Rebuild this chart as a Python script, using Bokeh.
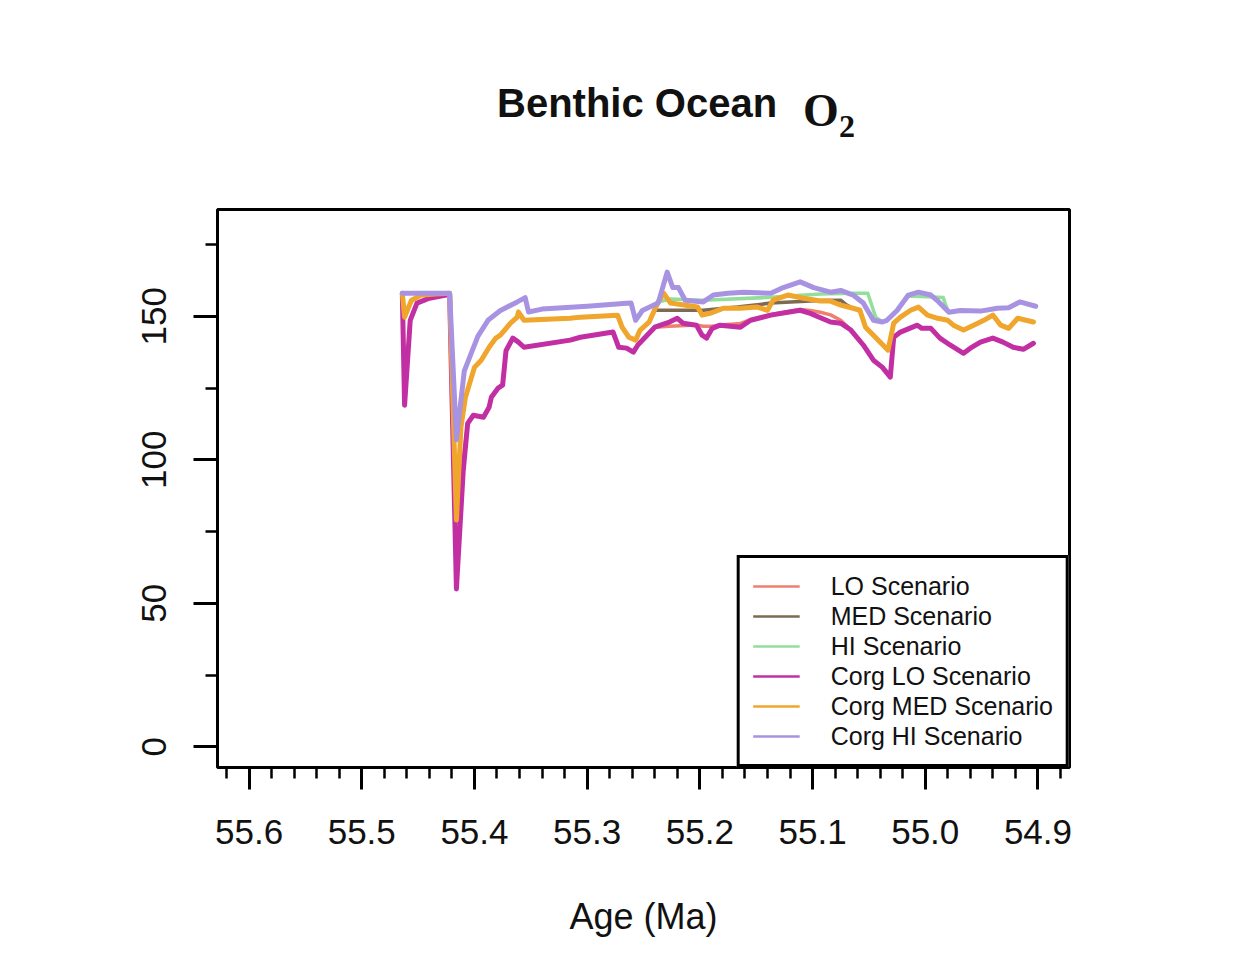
from bokeh.plotting import figure
from bokeh.models import (Range1d, LinearAxis, FixedTicker, PrintfTickFormatter,
                          Legend, LegendItem, Div)
from bokeh.layouts import column
from bokeh.embed import file_html
from bokeh.resources import INLINE

# ---- series: age (Ma) and benthic O2 ----
age_corg_lo = [55.464, 55.462, 55.457, 55.451, 55.440, 55.425, 55.422, 55.416, 55.410, 55.406,
               55.401, 55.392, 55.387, 55.385, 55.379, 55.375, 55.372, 55.366, 55.361, 55.356,
               55.315, 55.306, 55.277, 55.272, 55.265, 55.259, 55.255, 55.240, 55.227, 55.220,
               55.215, 55.203, 55.198, 55.194, 55.189, 55.182, 55.164, 55.155, 55.137, 55.122,
               55.111, 55.102, 55.093, 55.084, 55.075, 55.066, 55.055, 55.046, 55.038, 55.031,
               55.028, 55.022, 55.007, 55.003, 54.995, 54.987, 54.978, 54.966, 54.960, 54.951,
               54.940, 54.931, 54.922, 54.913, 54.904]
o2_corg_lo = [158.0, 119.0, 148.6, 154.6, 156.3, 157.4, 157.5, 55.0, 96.0, 112.7,
              115.5, 114.8, 118.3, 121.8, 125.0, 126.0, 138.0, 142.4, 141.0, 139.2,
              141.7, 142.7, 144.5, 139.2, 138.9, 137.5, 140.0, 146.2, 148.0, 149.3,
              147.6, 146.9, 143.4, 142.4, 145.8, 146.9, 146.2, 148.6, 150.4, 151.4,
              152.1, 151.0, 149.5, 148.0, 147.6, 145.2, 140.0, 134.7, 132.2, 128.8,
              142.7, 144.5, 146.9, 145.8, 145.8, 142.4, 140.0, 137.1, 138.9, 141.0,
              142.4, 141.0, 139.2, 138.5, 140.6]

age_corg_med = [55.464, 55.462, 55.456, 55.448, 55.435, 55.422, 55.416, 55.412, 55.408, 55.400,
                55.394, 55.387, 55.381, 55.377, 55.368, 55.362, 55.361, 55.356, 55.315, 55.306,
                55.273, 55.269, 55.263, 55.257, 55.253, 55.245, 55.237, 55.232, 55.226, 55.214,
                55.202, 55.198, 55.191, 55.179, 55.164, 55.149, 55.140, 55.135, 55.122, 55.108,
                55.093, 55.084, 55.075, 55.064, 55.058, 55.053, 55.046, 55.033, 55.028, 55.022,
                55.013, 55.006, 54.998, 54.989, 54.980, 54.975, 54.966, 54.957, 54.948, 54.940,
                54.933, 54.926, 54.918, 54.904]
o2_corg_med = [158.0, 149.7, 155.5, 157.3, 157.8, 158.0, 79.0, 111.3, 121.8, 132.2,
               134.7, 139.2, 142.4, 143.4, 147.6, 149.7, 151.4, 148.6, 149.3, 149.7,
               150.4, 146.2, 142.7, 141.7, 145.2, 148.0, 155.0, 158.0, 154.6, 153.9,
               153.2, 150.4, 151.0, 152.8, 152.8, 153.2, 152.1, 155.6, 157.4, 156.3,
               155.3, 155.3, 153.9, 152.8, 152.1, 146.2, 143.4, 138.2, 147.6, 149.7,
               152.1, 153.2, 150.4, 149.3, 148.6, 146.9, 145.2, 146.9, 148.6, 150.4,
               146.9, 145.8, 149.3, 148.0]

age_corg_hi = [55.464, 55.422, 55.416, 55.409, 55.403, 55.397, 55.388, 55.377, 55.362, 55.355,
               55.352, 55.340, 55.300, 55.265, 55.261, 55.257, 55.251, 55.237, 55.229, 55.224,
               55.219, 55.213, 55.197, 55.188, 55.175, 55.161, 55.137, 55.126, 55.111, 55.099,
               55.084, 55.075, 55.064, 55.055, 55.046, 55.038, 55.034, 55.025, 55.015, 55.006,
               54.995, 54.988, 54.979, 54.969, 54.951, 54.936, 54.926, 54.916, 54.902]
o2_corg_hi = [158.0, 158.0, 107.0, 131.0, 137.0, 143.0, 148.6, 152.0, 155.0, 156.5,
              151.5, 152.5, 153.5, 154.5, 154.6, 148.6, 152.0, 154.6, 165.4, 160.0,
              160.0, 155.6, 155.0, 157.4, 158.0, 158.4, 158.0, 160.0, 162.0, 160.0,
              158.4, 159.0, 157.4, 154.6, 148.6, 148.0, 148.6, 152.0, 157.4, 158.4,
              157.4, 155.0, 151.4, 152.0, 151.8, 152.8, 153.0, 155.0, 153.5]

age_hi = [55.464, 55.462, 55.456, 55.448, 55.435, 55.422, 55.416, 55.412, 55.408, 55.400,
          55.394, 55.387, 55.381, 55.377, 55.368, 55.362, 55.361, 55.356, 55.315, 55.306,
          55.273, 55.269, 55.263, 55.257, 55.253, 55.245, 55.237, 55.226, 55.197, 55.137,
          55.093, 55.064, 55.051, 55.044, 55.038, 55.034, 55.025, 55.015, 55.009, 54.984,
          54.982, 54.979, 54.969, 54.951, 54.936, 54.926, 54.916, 54.902]
o2_hi = [158.0, 150.5, 155.5, 157.3, 157.8, 158.0, 80.0, 111.3, 121.8, 132.2,
         134.7, 139.2, 142.4, 143.4, 147.6, 150.0, 151.8, 148.6, 149.3, 149.7,
         150.4, 146.2, 142.7, 141.7, 145.2, 148.0, 155.0, 156.0, 155.6, 156.6,
         157.8, 158.0, 158.0, 149.7, 148.0, 148.6, 152.0, 157.0, 157.0, 156.5,
         154.0, 151.4, 152.0, 151.8, 152.8, 153.0, 155.0, 153.5]

age_med = [55.464, 55.462, 55.456, 55.448, 55.435, 55.422, 55.416, 55.412, 55.408, 55.400,
           55.394, 55.387, 55.381, 55.377, 55.368, 55.362, 55.361, 55.356, 55.315, 55.306,
           55.273, 55.269, 55.263, 55.257, 55.253, 55.245, 55.240, 55.197, 55.167, 55.137,
           55.093, 55.075, 55.070, 55.064, 55.058, 55.053, 55.046, 55.033, 55.028, 55.022,
           55.013, 55.006, 54.998, 54.989, 54.980, 54.975, 54.966, 54.957, 54.948, 54.940,
           54.933, 54.926, 54.918, 54.904]
o2_med = [158.0, 150.0, 155.5, 157.3, 157.8, 158.0, 79.5, 111.3, 121.8, 132.2,
          134.7, 139.2, 142.4, 143.4, 147.6, 149.7, 151.0, 148.6, 149.3, 149.7,
          150.4, 146.2, 142.7, 141.7, 145.2, 148.0, 152.1, 152.1, 153.2, 154.6,
          155.5, 155.6, 154.0, 152.8, 152.1, 146.2, 143.4, 138.2, 147.6, 149.7,
          152.1, 153.2, 150.4, 149.3, 148.6, 146.9, 145.2, 146.9, 148.6, 150.4,
          146.9, 145.8, 149.3, 148.0]

age_lo = [55.464, 55.462, 55.457, 55.451, 55.440, 55.425, 55.422, 55.416, 55.410, 55.406,
          55.401, 55.392, 55.387, 55.385, 55.379, 55.375, 55.372, 55.366, 55.361, 55.356,
          55.315, 55.306, 55.277, 55.272, 55.265, 55.259, 55.255, 55.240, 55.227, 55.203,
          55.197, 55.189, 55.182, 55.164, 55.155, 55.137, 55.122, 55.111, 55.102, 55.093,
          55.084, 55.075, 55.066, 55.055, 55.046, 55.038, 55.031, 55.028, 55.022, 55.007,
          55.003, 54.995, 54.987, 54.978, 54.966, 54.960, 54.951, 54.940, 54.931, 54.922,
          54.913, 54.904]
o2_lo = [158.0, 120.0, 148.6, 154.6, 156.3, 157.4, 157.5, 78.0, 100.0, 113.0,
         115.5, 115.0, 118.5, 122.0, 125.0, 126.5, 138.0, 142.4, 141.0, 139.2,
         141.7, 142.7, 144.5, 139.2, 138.9, 137.5, 140.0, 146.2, 146.5, 147.0,
         146.5, 146.5, 147.0, 147.5, 148.8, 150.6, 151.6, 152.4, 152.0, 151.4,
         150.5, 148.6, 145.2, 140.0, 134.7, 132.2, 128.8, 142.7, 144.5, 146.9,
         145.8, 145.8, 142.4, 140.0, 137.1, 138.9, 141.0, 142.4, 141.0, 139.2,
         138.5, 140.6]

names = ["LO Scenario", "MED Scenario", "HI Scenario",
         "Corg LO Scenario", "Corg MED Scenario", "Corg HI Scenario"]

x_ticks = [55.6, 55.5, 55.4, 55.3, 55.2, 55.1, 55.0, 54.9]
y_ticks = [0, 50, 100, 150]

series = [
    (age_lo, o2_lo, "#EE8070", 3.5),
    (age_med, o2_med, "#7E6A52", 3.5),
    (age_hi, o2_hi, "#94DE9C", 3.5),
    (age_corg_lo, o2_corg_lo, "#C22FA2", 5),
    (age_corg_med, o2_corg_med, "#F0A52C", 5),
    (age_corg_hi, o2_corg_hi, "#A892E2", 5),
]

FONT = "Liberation Sans"
TITLE_H = 150

# title row: sans-serif words followed by the chemical formula in a serif face
title_html = (
    '<div style="position:relative;width:1252px;height:%dpx;color:#111111;">'
    '<span style="position:absolute;left:497px;top:83px;font-family:\'Liberation Sans\';'
    'font-weight:bold;font-size:40px;line-height:1;white-space:nowrap;">Benthic Ocean</span>'
    '<span style="position:absolute;left:803px;top:88px;font-family:\'Liberation Serif\';'
    'font-weight:bold;font-size:46px;line-height:1;">O</span>'
    '<span style="position:absolute;left:839px;top:110px;font-family:\'Liberation Serif\';'
    'font-weight:bold;font-size:32px;line-height:1;">2</span>'
    '</div>' % TITLE_H
)
title = Div(text=title_html, width=1252, height=TITLE_H, margin=(0, 0, 0, 0))

p = figure(width=1252, height=970 - TITLE_H, frame_width=852, frame_height=558,
           min_border_left=217, min_border_right=183, min_border_top=209 - TITLE_H,
           min_border_bottom=203,
           x_range=Range1d(55.628, 54.872), y_range=Range1d(-7.2, 187.2),
           x_axis_type=None, y_axis_type=None,
           output_backend="svg", toolbar_location=None, margin=(0, 0, 0, 0))
p.grid.visible = False
p.outline_line_color = "black"
p.outline_line_alpha = 1.0
p.outline_line_width = 3
p.background_fill_color = "white"
p.border_fill_color = "white"

# axes with outward ticks
xaxis = LinearAxis(
    ticker=FixedTicker(ticks=x_ticks,
                       minor_ticks=[round(54.88 + 0.02 * i, 2) for i in range(38)]),
    formatter=PrintfTickFormatter(format="%.1f"),
    axis_label="Age (Ma)")
yaxis = LinearAxis(
    ticker=FixedTicker(ticks=y_ticks, minor_ticks=[25, 75, 125, 175]))
for ax in (xaxis, yaxis):
    ax.axis_line_color = None
    ax.major_tick_in = 0
    ax.minor_tick_in = 0
    ax.major_tick_line_width = 3
    ax.minor_tick_line_width = 2.5
    ax.major_tick_line_color = "black"
    ax.minor_tick_line_color = "black"
    ax.major_label_text_font = FONT
    ax.major_label_text_font_size = "35px"
    ax.major_label_text_color = "#111111"
xaxis.major_tick_out = 22
xaxis.minor_tick_out = 11
xaxis.major_label_standoff = 30
xaxis.axis_label_text_font = FONT
xaxis.axis_label_text_font_size = "36px"
xaxis.axis_label_text_font_style = "normal"
xaxis.axis_label_text_color = "#111111"
xaxis.axis_label_standoff = 49
yaxis.major_tick_out = 24
yaxis.minor_tick_out = 12
yaxis.major_label_standoff = 27
yaxis.major_label_orientation = "vertical"
p.add_layout(xaxis, "below")
p.add_layout(yaxis, "left")

# data lines
for ages, vals, color, lw in series:
    p.line(ages, vals, line_color=color, line_width=lw, line_join="round", line_cap="round")

# thin legend samples (no data drawn in the plot area)
nan = float("nan")
items = []
for name, (_, _, color, _) in zip(names, series):
    r = p.line(x=[nan, nan], y=[nan, nan], line_color=color, line_width=2.5)
    items.append(LegendItem(label=name, renderers=[r]))
legend = Legend(items=items, location="bottom_right", margin=0, padding=13, spacing=0,
                border_line_color="black", border_line_alpha=1.0, border_line_width=3,
                background_fill_color="white", background_fill_alpha=1.0,
                glyph_width=47, glyph_height=30, label_height=30, label_standoff=31,
                label_text_font=FONT, label_text_font_size="25px",
                label_text_color="#111111")
p.add_layout(legend, "center")

layout = column(title, p, spacing=0, margin=(0, 0, 0, 0))
open("out.html", "w").write(file_html(layout, INLINE))
